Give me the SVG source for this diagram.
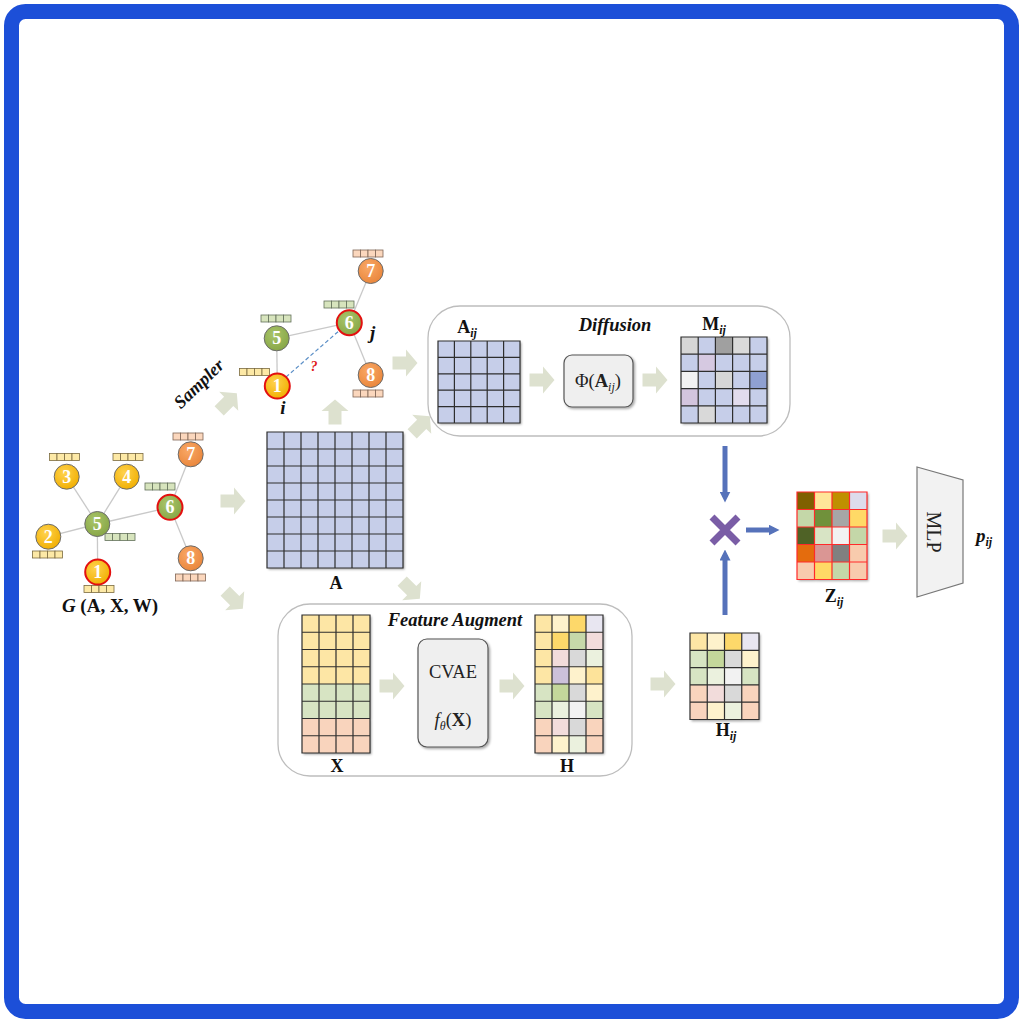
<svg xmlns="http://www.w3.org/2000/svg" xmlns:xlink="http://www.w3.org/1999/xlink" width="1024" height="1024" viewBox="0 0 1024 1024">
<style>
.lbl{font-family:"Liberation Serif","Times New Roman",serif;font-weight:bold;fill:#111}
.it{font-style:italic}
.reg{font-family:"Liberation Serif","Times New Roman",serif;fill:#222}
.ntxt{font-family:"Liberation Serif",serif;font-weight:bold;font-size:18px;fill:#fff;text-anchor:middle}
.edge{stroke:#c9c9c9;stroke-width:1.3;fill:none}
.grid{stroke:#2e2e2e;stroke-width:1.2;fill:none}
.zgrid{stroke:#ff2a2a;stroke-width:1.2;fill:none}
.blk{fill:#dde1cf}
.blue{fill:#c6cee9}
.panel{fill:#fff;stroke:#bdbdbd;stroke-width:1.3}
.bl{stroke:#5672ba;stroke-width:5;fill:none}
</style>
<defs>
<radialGradient id="gY" cx="40%" cy="35%" r="70%"><stop offset="0" stop-color="#ffd24d"/><stop offset="1" stop-color="#f0ae00"/></radialGradient>
<radialGradient id="gG" cx="40%" cy="35%" r="70%"><stop offset="0" stop-color="#a9c56a"/><stop offset="1" stop-color="#86a545"/></radialGradient>
<radialGradient id="gO" cx="40%" cy="35%" r="70%"><stop offset="0" stop-color="#f9a866"/><stop offset="1" stop-color="#e9853a"/></radialGradient>
<filter id="sh" x="-10%" y="-10%" width="130%" height="130%"><feDropShadow dx="1.5" dy="1.5" stdDeviation="1" flood-color="#000" flood-opacity="0.35"/></filter>
<path id="arr" class="blk" d="M-12.5,-6.5 H1 V-13.5 L12.5,0 L1,13.5 V6.5 H-12.5 Z"/>
<g id="barY"><rect x="0" y="0" width="7.5" height="7" fill="#fde9a6" stroke="#7a6a40" stroke-width="0.8"/><rect x="7.5" y="0" width="7.5" height="7" fill="#fde9a6" stroke="#7a6a40" stroke-width="0.8"/><rect x="15" y="0" width="7.5" height="7" fill="#fde9a6" stroke="#7a6a40" stroke-width="0.8"/><rect x="22.5" y="0" width="7.5" height="7" fill="#fde9a6" stroke="#7a6a40" stroke-width="0.8"/></g>
<g id="barG"><rect x="0" y="0" width="7.5" height="7" fill="#d7e4bd" stroke="#63705a" stroke-width="0.8"/><rect x="7.5" y="0" width="7.5" height="7" fill="#d7e4bd" stroke="#63705a" stroke-width="0.8"/><rect x="15" y="0" width="7.5" height="7" fill="#d7e4bd" stroke="#63705a" stroke-width="0.8"/><rect x="22.5" y="0" width="7.5" height="7" fill="#d7e4bd" stroke="#63705a" stroke-width="0.8"/></g>
<g id="barP"><rect x="0" y="0" width="7.5" height="7" fill="#fbd7bd" stroke="#7f6555" stroke-width="0.8"/><rect x="7.5" y="0" width="7.5" height="7" fill="#fbd7bd" stroke="#7f6555" stroke-width="0.8"/><rect x="15" y="0" width="7.5" height="7" fill="#fbd7bd" stroke="#7f6555" stroke-width="0.8"/><rect x="22.5" y="0" width="7.5" height="7" fill="#fbd7bd" stroke="#7f6555" stroke-width="0.8"/></g>
<marker id="mh" viewBox="0 0 6 6" refX="3" refY="3" markerWidth="2.2" markerHeight="2.2" orient="auto"><path d="M0,0 L6,3 L0,6 Z" fill="#5672ba"/></marker>
</defs>

<rect x="11.5" y="11.5" width="1000" height="1000" rx="14" fill="#fff" stroke="#1c4fd8" stroke-width="15"/>

<!-- panels -->
<g id="diffusion-panel"><rect class="panel" x="428" y="306" width="362" height="130" rx="32"/></g>
<g id="feature-panel"><rect class="panel" x="278" y="604" width="354" height="172" rx="32"/></g>

<!-- connectors -->
<g id="connectors">
<line class="edge" x1="66.7" y1="476.7" x2="97.3" y2="524"/>
<line class="edge" x1="126.7" y1="476.7" x2="97.3" y2="524"/>
<line class="edge" x1="48.3" y1="536.7" x2="97.3" y2="524"/>
<line class="edge" x1="97.7" y1="572" x2="97.3" y2="524"/>
<line class="edge" x1="97.3" y1="524" x2="170" y2="507.3"/>
<line class="edge" x1="170" y1="507.3" x2="190.7" y2="454.3"/>
<line class="edge" x1="170" y1="507.3" x2="190.7" y2="558.3"/>
<line class="edge" x1="276.7" y1="338.3" x2="277.3" y2="386"/>
<line class="edge" x1="276.7" y1="338.3" x2="349.3" y2="322.7"/>
<line class="edge" x1="349.3" y1="322.7" x2="370.7" y2="271"/>
<line class="edge" x1="349.3" y1="322.7" x2="370.7" y2="375"/>
<line x1="286" y1="377" x2="340" y2="330" stroke="#5b8fc7" stroke-width="1.2" stroke-dasharray="4,2.5"/>
<use href="#arr" transform="translate(233,501)"/>
<use href="#arr" transform="translate(234,600) rotate(45)"/>
<use href="#arr" transform="translate(228,402) rotate(-45)"/>
<use href="#arr" transform="translate(335,412) rotate(-90)"/>
<use href="#arr" transform="translate(405,363)"/>
<use href="#arr" transform="translate(421,425) rotate(-45)"/>
<use href="#arr" transform="translate(411,590) rotate(45)"/>
<use href="#arr" transform="translate(542,380)"/>
<use href="#arr" transform="translate(655,380)"/>
<use href="#arr" transform="translate(392,686)"/>
<use href="#arr" transform="translate(512,686)"/>
<use href="#arr" transform="translate(663,684)"/>
<use href="#arr" transform="translate(895,536)"/>
<line class="bl" x1="725" y1="446" x2="725" y2="497" marker-end="url(#mh)"/>
<line class="bl" x1="725" y1="615" x2="725" y2="555" marker-end="url(#mh)"/>
<line class="bl" x1="746" y1="530" x2="774" y2="530" marker-end="url(#mh)"/>
</g>

<!-- left graph -->
<g id="graph-G">
<use href="#barY" x="49.5" y="453.5"/><use href="#barY" x="113" y="453.5"/><use href="#barP" x="173" y="433"/>
<use href="#barG" x="145" y="483"/><use href="#barG" x="105" y="533.5"/><use href="#barY" x="32.5" y="551"/>
<use href="#barY" x="84" y="585.5"/><use href="#barP" x="175.5" y="574"/>
<g id="g-n3"><circle cx="66.7" cy="476.7" r="12.5" fill="url(#gY)" stroke="#6b6b6b"/><text class="ntxt" x="66.7" y="482.7">3</text></g>
<g id="g-n4"><circle cx="126.7" cy="476.7" r="12.5" fill="url(#gY)" stroke="#6b6b6b"/><text class="ntxt" x="126.7" y="482.7">4</text></g>
<g id="g-n7"><circle cx="190.7" cy="454.3" r="12.5" fill="url(#gO)" stroke="#6b6b6b"/><text class="ntxt" x="190.7" y="460.3">7</text></g>
<g id="g-n6"><circle cx="170" cy="507.3" r="12.5" fill="url(#gG)" stroke="#e31010" stroke-width="2"/><text class="ntxt" x="170" y="513.3">6</text></g>
<g id="g-n5"><circle cx="97.3" cy="524" r="12.5" fill="url(#gG)" stroke="#6b6b6b"/><text class="ntxt" x="97.3" y="530">5</text></g>
<g id="g-n2"><circle cx="48.3" cy="536.7" r="12.5" fill="url(#gY)" stroke="#6b6b6b"/><text class="ntxt" x="48.3" y="542.7">2</text></g>
<g id="g-n1"><circle cx="97.7" cy="572" r="12.5" fill="url(#gY)" stroke="#e31010" stroke-width="2"/><text class="ntxt" x="97.7" y="578">1</text></g>
<g id="g-n8"><circle cx="190.7" cy="558.3" r="12.5" fill="url(#gO)" stroke="#6b6b6b"/><text class="ntxt" x="190.7" y="564.3">8</text></g>
<text class="lbl" x="110" y="612" font-size="19" text-anchor="middle"><tspan class="it">G</tspan> (A, X, W)</text>
</g>

<!-- sampled subgraph -->
<g id="subgraph">
<use href="#barP" x="353" y="250"/><use href="#barG" x="324" y="301"/><use href="#barG" x="261" y="315"/>
<use href="#barY" x="239.5" y="368.5"/><use href="#barP" x="353" y="390"/>
<g id="s-n7"><circle cx="370.7" cy="271" r="12.5" fill="url(#gO)" stroke="#6b6b6b"/><text class="ntxt" x="370.7" y="277">7</text></g>
<g id="s-n6"><circle cx="349.3" cy="322.7" r="12.5" fill="url(#gG)" stroke="#e31010" stroke-width="2"/><text class="ntxt" x="349.3" y="328.7">6</text></g>
<g id="s-n5"><circle cx="276.7" cy="338.3" r="12.5" fill="url(#gG)" stroke="#6b6b6b"/><text class="ntxt" x="276.7" y="344.3">5</text></g>
<g id="s-n1"><circle cx="277.3" cy="386" r="12.5" fill="url(#gY)" stroke="#e31010" stroke-width="2"/><text class="ntxt" x="277.3" y="392">1</text></g>
<g id="s-n8"><circle cx="370.7" cy="375" r="12.5" fill="url(#gO)" stroke="#6b6b6b"/><text class="ntxt" x="370.7" y="381">8</text></g>
<text class="lbl it" x="370" y="339" font-size="19">j</text>
<text class="lbl it" x="283" y="414" font-size="19" text-anchor="middle">i</text>
<text x="314" y="371" font-family="Liberation Serif,serif" font-style="italic" font-weight="bold" font-size="14" fill="#e01818" text-anchor="middle">?</text>
<text class="lbl it" x="0" y="0" font-size="18" text-anchor="middle" transform="translate(203,388) rotate(-44)">Sampler</text>
</g>

<!-- matrix A -->
<g id="matrix-A">
<rect class="blue" x="267" y="432" width="136" height="136" filter="url(#sh)"/>
<path class="grid" d="M267,432h136v136h-136z M284,432v136 M301,432v136 M318,432v136 M335,432v136 M352,432v136 M369,432v136 M386,432v136 M267,449h136 M267,466h136 M267,483h136 M267,500h136 M267,517h136 M267,534h136 M267,551h136"/>
<text class="lbl" x="336" y="589" font-size="18" text-anchor="middle">A</text>
</g>

<!-- diffusion -->
<g id="matrix-Aij">
<rect class="blue" x="438" y="341" width="82" height="82" filter="url(#sh)"/>
<path class="grid" d="M438,341h82v82h-82z M454.4,341v82 M470.8,341v82 M487.2,341v82 M503.6,341v82 M438,357.4h82 M438,373.8h82 M438,390.2h82 M438,406.6h82"/>
<text class="lbl" x="467" y="333" font-size="18" text-anchor="middle">A<tspan class="it" font-size="12" dy="4">ij</tspan></text>
</g>
<text class="lbl it" x="615" y="331" font-size="18.5" text-anchor="middle">Diffusion</text>
<g id="phi-box">
<rect x="564" y="355" width="69" height="52" rx="8" fill="#efefef" stroke="#555" stroke-width="1.2" filter="url(#sh)"/>
<text class="reg" x="598" y="387" font-size="18.5" text-anchor="middle">Φ(<tspan font-weight="bold">A</tspan><tspan font-style="italic" font-size="12" dy="4">ij</tspan><tspan dy="-4">)</tspan></text>
</g>
<g id="matrix-Mij">
<g filter="url(#sh)">
<rect x="681" y="337" width="86" height="86" fill="#c6cee9"/>
<rect x="681" y="337" width="17.2" height="17.2" fill="#d6d6d6"/>
<rect x="715.4" y="337" width="17.2" height="17.2" fill="#a0a0a0"/>
<rect x="732.6" y="337" width="17.2" height="17.2" fill="#dadada"/>
<rect x="698.2" y="354.2" width="17.2" height="17.2" fill="#d6c9e1"/>
<rect x="681" y="371.4" width="17.2" height="17.2" fill="#f2f2f2"/>
<rect x="715.4" y="371.4" width="17.2" height="17.2" fill="#d6d6d6"/>
<rect x="749.8" y="371.4" width="17.2" height="17.2" fill="#8fa0d2"/>
<rect x="681" y="388.6" width="17.2" height="17.2" fill="#d3c5de"/>
<rect x="732.6" y="388.6" width="17.2" height="17.2" fill="#e2dced"/>
<rect x="698.2" y="405.8" width="17.2" height="17.2" fill="#d9d9d9"/>
</g>
<path class="grid" d="M681,337h86v86h-86z M698.2,337v86 M715.4,337v86 M732.6,337v86 M749.8,337v86 M681,354.2h86 M681,371.4h86 M681,388.6h86 M681,405.8h86"/>
<text class="lbl" x="714" y="330" font-size="18" text-anchor="middle">M<tspan class="it" font-size="12" dy="4">ij</tspan></text>
</g>

<!-- feature augment -->
<text class="lbl it" x="455" y="626" font-size="18.5" text-anchor="middle">Feature Augment</text>
<g id="matrix-X">
<g filter="url(#sh)">
<rect x="302" y="615" width="68" height="69" fill="#fde6a5"/>
<rect x="302" y="684" width="68" height="34.5" fill="#d7e4c3"/>
<rect x="302" y="718.5" width="68" height="34.5" fill="#f9d4bd"/>
</g>
<path class="grid" d="M302,615h68v138h-68z M319,615v138 M336,615v138 M353,615v138 M302,632.25h68 M302,649.5h68 M302,666.75h68 M302,684h68 M302,701.25h68 M302,718.5h68 M302,735.75h68"/>
<text class="lbl" x="337" y="772" font-size="18" text-anchor="middle">X</text>
</g>
<g id="cvae-box">
<rect x="418" y="639" width="70" height="108" rx="9" fill="#efefef" stroke="#555" stroke-width="1.2" filter="url(#sh)"/>
<text class="reg" x="453" y="678" font-size="18.5" text-anchor="middle">CVAE</text>
<text class="reg" x="453" y="726" font-size="18.5" text-anchor="middle"><tspan font-style="italic">f</tspan><tspan font-style="italic" font-size="12" dy="4">θ</tspan><tspan dy="-4">(</tspan><tspan font-weight="bold">X</tspan>)</text>
</g>
<g id="matrix-H">
<g filter="url(#sh)">
<rect x="535" y="615" width="68" height="69" fill="#fde6a5"/>
<rect x="535" y="684" width="68" height="34.5" fill="#d7e4c3"/>
<rect x="535" y="718.5" width="68" height="34.5" fill="#f9d4bd"/>
<rect x="552" y="615" width="17" height="17.25" fill="#fef2cc"/>
<rect x="569" y="615" width="17" height="17.25" fill="#fdd86a"/>
<rect x="586" y="615" width="17" height="17.25" fill="#e8e6f1"/>
<rect x="552" y="632.25" width="17" height="17.25" fill="#fdd86a"/>
<rect x="569" y="632.25" width="17" height="17.25" fill="#c6d8a9"/>
<rect x="586" y="632.25" width="17" height="17.25" fill="#f2dcdb"/>
<rect x="552" y="649.5" width="17" height="17.25" fill="#f2dcdb"/>
<rect x="569" y="649.5" width="17" height="17.25" fill="#d9d9d9"/>
<rect x="586" y="649.5" width="17" height="17.25" fill="#ebf1de"/>
<rect x="552" y="666.75" width="17" height="17.25" fill="#ccc1da"/>
<rect x="569" y="666.75" width="17" height="17.25" fill="#fef2cc"/>
<rect x="586" y="666.75" width="17" height="17.25" fill="#fde39a"/>
<rect x="552" y="684" width="17" height="17.25" fill="#c4d79b"/>
<rect x="569" y="684" width="17" height="17.25" fill="#d9d9d9"/>
<rect x="586" y="684" width="17" height="17.25" fill="#fef2cc"/>
<rect x="552" y="701.25" width="17" height="17.25" fill="#ebf1de"/>
<rect x="569" y="701.25" width="17" height="17.25" fill="#f2f2f2"/>
<rect x="552" y="718.5" width="17" height="17.25" fill="#f2dcdb"/>
<rect x="569" y="718.5" width="17" height="17.25" fill="#d9d9d9"/>
<rect x="552" y="735.75" width="17" height="17.25" fill="#fef2cc"/>
<rect x="569" y="735.75" width="17" height="17.25" fill="#ebf1de"/>
</g>
<path class="grid" d="M535,615h68v138h-68z M552,615v138 M569,615v138 M586,615v138 M535,632.25h68 M535,649.5h68 M535,666.75h68 M535,684h68 M535,701.25h68 M535,718.5h68 M535,735.75h68"/>
<text class="lbl" x="567" y="772" font-size="18" text-anchor="middle">H</text>
</g>

<!-- Hij -->
<g id="matrix-Hij">
<g filter="url(#sh)">
<rect x="690" y="633" width="69" height="86.5" fill="#d7e4c3"/>
<rect x="690" y="633" width="17.25" height="17.3" fill="#fde6a5"/>
<rect x="707.25" y="633" width="17.25" height="17.3" fill="#fef2cc"/>
<rect x="724.5" y="633" width="17.25" height="17.3" fill="#fdd86a"/>
<rect x="741.75" y="633" width="17.25" height="17.3" fill="#e8e6f1"/>
<rect x="707.25" y="650.3" width="17.25" height="17.3" fill="#c4d79b"/>
<rect x="724.5" y="650.3" width="17.25" height="17.3" fill="#d9d9d9"/>
<rect x="741.75" y="650.3" width="17.25" height="17.3" fill="#fef2cc"/>
<rect x="707.25" y="667.6" width="17.25" height="17.3" fill="#ebf1de"/>
<rect x="724.5" y="667.6" width="17.25" height="17.3" fill="#f2f2f2"/>
<rect x="690" y="684.9" width="69" height="34.6" fill="#f9d4bd"/>
<rect x="707.25" y="684.9" width="17.25" height="17.3" fill="#f2dcdb"/>
<rect x="724.5" y="684.9" width="17.25" height="17.3" fill="#d9d9d9"/>
<rect x="707.25" y="702.2" width="17.25" height="17.3" fill="#fef2cc"/>
<rect x="724.5" y="702.2" width="17.25" height="17.3" fill="#ebf1de"/>
</g>
<path class="grid" d="M690,633h69v86.5h-69z M707.25,633v86.5 M724.5,633v86.5 M741.75,633v86.5 M690,650.3h69 M690,667.6h69 M690,684.9h69 M690,702.2h69"/>
<text class="lbl" x="726" y="736" font-size="18" text-anchor="middle">H<tspan class="it" font-size="12" dy="4">ij</tspan></text>
</g>

<!-- cross -->
<g id="multiply">
<path d="M712,517 L738,543 M738,517 L712,543" stroke="#7a5da6" stroke-width="7" fill="none"/>
</g>

<!-- Zij -->
<g id="matrix-Zij">
<g filter="url(#sh)">
<rect x="797" y="492" width="17.5" height="17.5" fill="#7f6000"/>
<rect x="814.5" y="492" width="17.5" height="17.5" fill="#ffe699"/>
<rect x="832" y="492" width="17.5" height="17.5" fill="#bf9000"/>
<rect x="849.5" y="492" width="17.5" height="17.5" fill="#dddcec"/>
<rect x="797" y="509.5" width="17.5" height="17.5" fill="#c4d7a8"/>
<rect x="814.5" y="509.5" width="17.5" height="17.5" fill="#6f913b"/>
<rect x="832" y="509.5" width="17.5" height="17.5" fill="#a6a6a6"/>
<rect x="849.5" y="509.5" width="17.5" height="17.5" fill="#ffd966"/>
<rect x="797" y="527" width="17.5" height="17.5" fill="#4f6228"/>
<rect x="814.5" y="527" width="17.5" height="17.5" fill="#d8e4c5"/>
<rect x="832" y="527" width="17.5" height="17.5" fill="#f2f2f2"/>
<rect x="849.5" y="527" width="17.5" height="17.5" fill="#c4d7a8"/>
<rect x="797" y="544.5" width="17.5" height="17.5" fill="#e46c0a"/>
<rect x="814.5" y="544.5" width="17.5" height="17.5" fill="#da9694"/>
<rect x="832" y="544.5" width="17.5" height="17.5" fill="#808080"/>
<rect x="849.5" y="544.5" width="17.5" height="17.5" fill="#f8cbad"/>
<rect x="797" y="562" width="17.5" height="17.5" fill="#f8cbad"/>
<rect x="814.5" y="562" width="17.5" height="17.5" fill="#ffd966"/>
<rect x="832" y="562" width="17.5" height="17.5" fill="#c4d7a8"/>
<rect x="849.5" y="562" width="17.5" height="17.5" fill="#f8cbad"/>
</g>
<path class="zgrid" d="M797,492h70v87.5h-70z M814.5,492v87.5 M832,492v87.5 M849.5,492v87.5 M797,509.5h70 M797,527h70 M797,544.5h70 M797,562h70"/>
<text class="lbl" x="834" y="602" font-size="18" text-anchor="middle">Z<tspan class="it" font-size="12" dy="4">ij</tspan></text>
</g>

<!-- MLP -->
<g id="mlp">
<path d="M917,467 L963,480 L963,583 L917,597 Z" fill="#f2f2f2" stroke="#777" stroke-width="1.2"/>
<text class="reg" x="0" y="0" font-size="20" text-anchor="middle" transform="translate(927,532) rotate(90)">MLP</text>
</g>
<text class="lbl it" x="976" y="542" font-size="19">p<tspan font-size="12" dy="4">ij</tspan></text>
</svg>
